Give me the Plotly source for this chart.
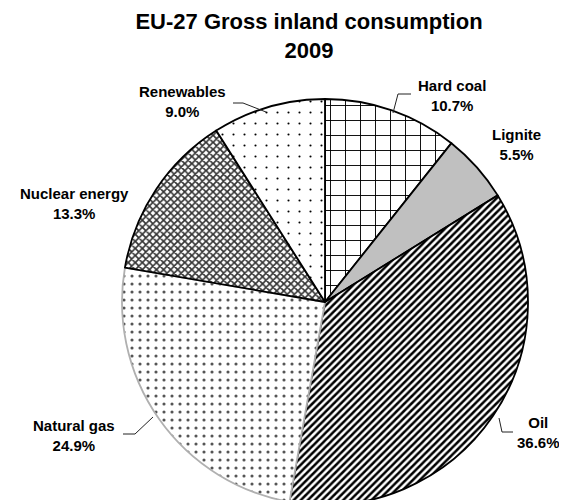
import plotly.graph_objects as go

categories = ["Hard coal", "Lignite", "Oil", "Natural gas", "Nuclear energy", "Renewables"]
shares = [10.7, 5.5, 36.6, 24.9, 13.3, 9.0]

W, H = 567, 500
OFF = 8  # page body margin offset in the browser


def px(x):
    return (x - OFF) / W


def py(y):
    return 1 - (y - OFF) / H


CX, CY, R = 325, 302, 203
fig = go.Figure(go.Pie(
    labels=categories,
    values=shares,
    sort=False,
    direction="clockwise",
    rotation=0,
    textinfo="none",
    hoverinfo="label+percent",
    showlegend=False,
    marker=dict(
        colors=["white", "#c0c0c0", "white", "white", "#8c8c8c", "white"],
        line=dict(color=["black", "black", "black", "#b0b0b0", "black", "black"], width=1.8),
        pattern=dict(
            shape=["+", "", "/", ".", "x", "."],
            fgcolor=["black", "black", "black", "#555555", "#333333", "black"],
            bgcolor=["white", "#c0c0c0", "white", "white", "white", "white"],
            size=[15, 8, 5, 8, 5, 11],
            solidity=[0.12, 0.3, 0.5, 0.12, 0.55, 0.03],
            fillmode="replace",
        ),
    ),
    domain=dict(x=[px(CX - R), px(CX + R)], y=[py(CY + R), py(CY - R)]),
))

# label annotations: centre positions in reference pixels
label_pos = {
    "Hard coal": (452, 96),
    "Lignite": (516, 144),
    "Oil": (538, 432),
    "Natural gas": (74, 435),
    "Nuclear energy": (74, 203),
    "Renewables": (182, 102),
}
for cat, val in zip(categories, shares):
    x, y = label_pos[cat]
    fig.add_annotation(
        x=px(x), y=py(y), xref="paper", yref="paper",
        xanchor="center", yanchor="middle",
        text=f"<b>{cat}<br>{val:.1f}%</b>", showarrow=False,
        font=dict(family="Liberation Sans, Arial", size=15, color="black"),
        align="center",
    )

leaders = [
    [(411, 94), (398, 94), (393, 113)],
    [(513, 432), (502, 432), (499, 418)],
    [(123, 434), (135, 434), (153, 417)],
    [(233, 103), (243, 103), (266, 112)],
]
for pts in leaders:
    path = "M " + " L ".join(f"{px(a)},{py(b)}" for a, b in pts)
    fig.add_shape(type="path", path=path, xref="paper", yref="paper",
                  line=dict(color="#222222", width=1))

fig.update_layout(
    width=W, height=H,
    margin=dict(l=0, r=0, t=0, b=0),
    paper_bgcolor="white",
    plot_bgcolor="white",
    title=dict(
        text="<b>EU-27 Gross inland consumption<br>2009</b>",
        x=px(309), y=py(29), xanchor="center", yanchor="middle",
        font=dict(family="Liberation Sans, Arial", size=22, color="black"),
    ),
)
fig.write_html("out.html")
